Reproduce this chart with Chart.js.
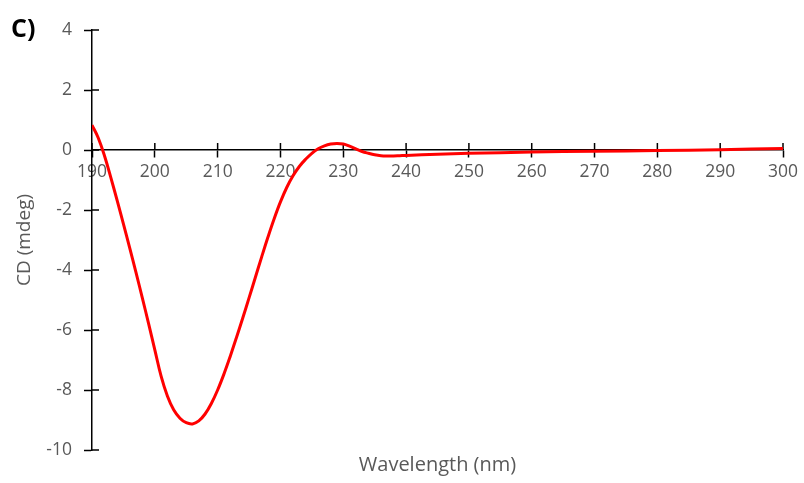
<!DOCTYPE html>
<html>
<head>
<meta charset="utf-8">
<script src="https://cdn.jsdelivr.net/npm/chart.js@4.4.1/dist/chart.umd.min.js"></script>
<style>
html, body { margin: 0; padding: 0; background: #fff; }
#wrap { width: 804px; height: 483px; }
</style>
</head>
<body>
<div id="wrap"><canvas id="cdChart" width="804" height="483"></canvas></div>
<script>
// panel text
var panelLabel = 'C)';
var xTitle = 'Wavelength (nm)';
var yTitle = 'CD (mdeg)';

// axis ranges / ticks
var xRange = [190, 300];
var xStep = 10;
var yRange = [-10, 4];
var yStep = 2;

// CD spectrum
var wavelength = [190, 191, 192, 193, 194, 195, 196, 197, 198, 199, 200, 201, 202, 203, 204, 205, 206, 207, 208, 209, 210, 211, 212, 213, 214, 215, 216, 217, 218, 219, 220, 221, 222, 223, 224, 225, 226, 227, 228, 229, 230, 231, 232, 233, 234, 235, 236, 237, 238, 239, 240, 245, 250, 260, 270, 280, 290, 300];
var cdValue = [0.83, 0.40, -0.20, -0.92, -1.68, -2.46, -3.26, -4.08, -4.92, -5.78, -6.66, -7.54, -8.20, -8.66, -8.94, -9.09, -9.13, -9.03, -8.80, -8.45, -8.00, -7.47, -6.88, -6.25, -5.60, -4.93, -4.25, -3.57, -2.91, -2.29, -1.73, -1.25, -0.86, -0.55, -0.31, -0.11, 0.04, 0.14, 0.20, 0.22, 0.20, 0.13, 0.04, -0.05, -0.11, -0.16, -0.19, -0.20, -0.20, -0.19, -0.18, -0.14, -0.11, -0.07, -0.04, -0.02, 0.01, 0.05];

var labelColor = '#595959';
var fontFam = '"Open Sans", "Liberation Sans", sans-serif';

var points = [];
for (var i = 0; i < wavelength.length; i++) {
	points.push({ x: wavelength[i], y: cdValue[i] });
}

// Excel style ticks that cross the axis: draw the inner half
var crossTicks = {
	id: 'crossTicks',
	beforeDatasetsDraw: function(chart) {
		var ctx = chart.ctx;
		var xs = chart.scales.x;
		var ys = chart.scales.y;
		var y0 = ys.getPixelForValue(0);
		ctx.save();
		ctx.strokeStyle = '#000';
		ctx.lineWidth = 1.5;
		ctx.beginPath();
		xs.ticks.forEach(function(t) {
			var px = xs.getPixelForValue(t.value);
			ctx.moveTo(px, y0 - 7);
			ctx.lineTo(px, y0);
		});
		ys.ticks.forEach(function(t) {
			var py = ys.getPixelForValue(t.value);
			ctx.moveTo(xs.left, py);
			ctx.lineTo(xs.left + 7, py);
		});
		ctx.stroke();
		ctx.restore();
	},
	afterDraw: function(chart) {
		var ctx = chart.ctx;
		ctx.save();
		ctx.fillStyle = '#000';
		ctx.font = 'bold 25px ' + fontFam;
		ctx.textBaseline = 'alphabetic';
		ctx.textAlign = 'left';
		ctx.fillText(panelLabel, 11, 37);
		ctx.restore();
	}
};

const ctx = document.getElementById('cdChart').getContext('2d');
const myChart = new Chart(ctx, {
	type: 'line',
	data: {
		datasets: [{
			label: yTitle,
			data: points,
			borderColor: '#ff0000',
			borderWidth: 3,
			pointRadius: 0,
			fill: false,
			tension: 0.4
		}]
	},
	options: {
		responsive: false,
		animation: false,
		layout: { padding: { top: 30, right: 21, bottom: 0, left: 0 } },
		plugins: {
			legend: { display: false },
			tooltip: { enabled: false }
		},
		scales: {
			x: {
				type: 'linear',
				position: { y: 0 },
				min: xRange[0],
				max: xRange[1],
				ticks: {
					stepSize: xStep,
					autoSkip: false,
					maxRotation: 0,
					color: labelColor,
					padding: 5,
					font: { family: fontFam, size: 17.5 }
				},
				grid: { drawOnChartArea: false, tickLength: 7, tickColor: '#000', tickWidth: 1.5 },
				border: { color: '#000', width: 1.5 }
			},
			xt: {
				type: 'linear',
				position: 'bottom',
				min: xRange[0],
				max: xRange[1],
				ticks: { display: false },
				grid: { display: false, drawTicks: false },
				border: { display: false },
				title: {
					display: true,
					text: xTitle,
					color: labelColor,
					padding: { top: 0, bottom: 6 },
					font: { family: fontFam, size: 20 }
				},
				afterFit: function(s) { s.height = 33; }
			},
			y: {
				min: yRange[0],
				max: yRange[1],
				ticks: {
					stepSize: yStep,
					color: labelColor,
					padding: 12,
					font: { family: fontFam, size: 17.5 }
				},
				grid: { drawOnChartArea: false, tickLength: 8, tickColor: '#000', tickWidth: 1.5 },
				border: { color: '#000', width: 1.5 },
				title: {
					display: true,
					text: yTitle,
					color: labelColor,
					padding: { top: 13, bottom: 0 },
					font: { family: fontFam, size: 19 }
				},
				afterFit: function(s) { s.width = 92; }
			}
		}
	},
	plugins: [crossTicks]
});
</script>
</body>
</html>
